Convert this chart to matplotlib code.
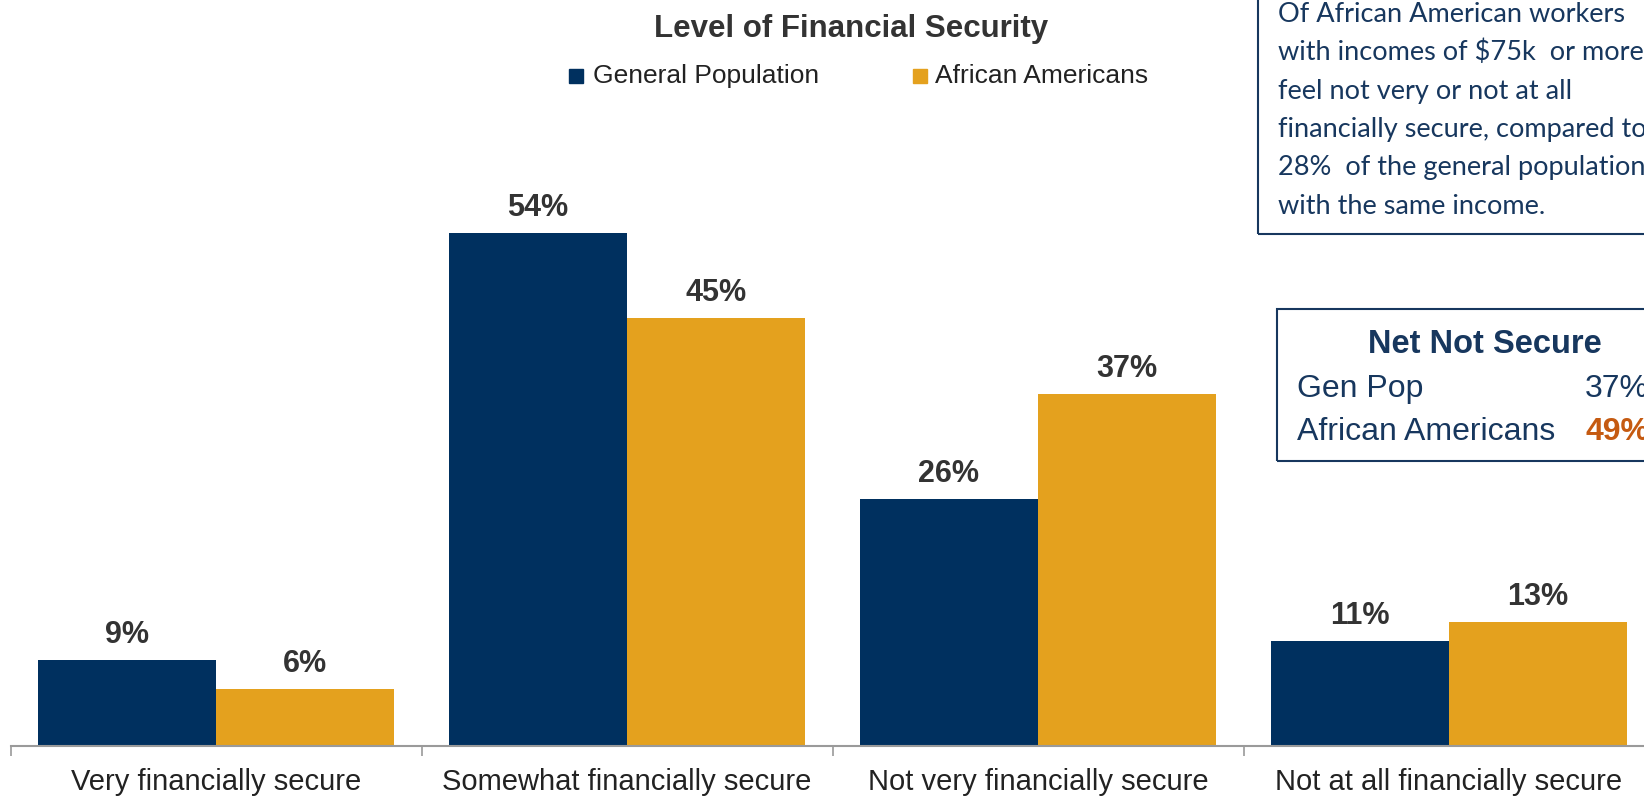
import matplotlib.pyplot as plt
from matplotlib import font_manager
from matplotlib.patches import Rectangle
import numpy as np

categories = ['Very financially secure', 'Somewhat financially secure',
              'Not very financially secure', 'Not at all financially secure']
gen_pop = [9, 54, 26, 11]
african_am = [6, 45, 37, 13]
series_names = ['General Population', 'African Americans']

net_labels = ['Gen Pop', 'African Americans']
net_values = [37, 49]

note_lines = ['Of African American workers',
              'with incomes of $75k  or more',
              'feel not very or not at all',
              'financially secure, compared to',
              '28%  of the general population',
              'with the same income.']

NAVY = '#00305F'
GOLD = '#E4A11E'
BOX_BLUE = '#17375E'

names = {f.name for f in font_manager.fontManager.ttflist}
narrow = 'Liberation Sans Narrow' if 'Liberation Sans Narrow' in names else 'Liberation Sans'
plt.rcParams['font.family'] = [narrow, 'DejaVu Sans']

W, H = 1644, 796
fig = plt.figure(figsize=(W / 100, H / 100), dpi=100)

# plot area: baseline at y=745.5px, categories 411px wide starting at x=10.5px
ax = fig.add_axes([10.5 / W, (H - 745.5) / H, 4 * 411 / W, 665 / H])
x = np.arange(len(categories))
bw = 0.434
b1 = ax.bar(x - bw / 2, gen_pop, bw, color=NAVY, label=series_names[0])
b2 = ax.bar(x + bw / 2, african_am, bw, color=GOLD, label=series_names[1])
ax.set_xlim(-0.5, len(categories) - 0.5)
ax.set_ylim(0, 70)

for bars, vals in ((b1, gen_pop), (b2, african_am)):
    for bar, v in zip(bars, vals):
        ax.annotate(f'{v}%', (bar.get_x() + bar.get_width() / 2, v),
                    xytext=(0, 7), textcoords='offset points',
                    ha='center', va='bottom', fontsize=22, fontweight='bold',
                    color='#333333')

for side in ('left', 'right', 'top'):
    ax.spines[side].set_visible(False)
ax.spines['bottom'].set_color('#9A9A9A')
ax.spines['bottom'].set_linewidth(1.5)
ax.set_yticks([])
ax.set_xticks(np.arange(len(categories) + 1) - 0.5)
ax.set_xticklabels([])
ax.tick_params(axis='x', which='major', length=7, width=1.2, color='#9A9A9A')
ax.set_xticks(x, minor=True)
ax.set_xticklabels(categories, minor=True, fontsize=21, color='#222222')
ax.tick_params(axis='x', which='minor', length=0, pad=16)

# title and legend
fig.text(851 / W, 1 - 37 / H, 'Level of Financial Security', ha='center',
         va='baseline', fontsize=22.5, fontweight='bold', color='#333333')
for (sx, tx), name, col in zip([(569, 593), (913, 935)], series_names, [NAVY, GOLD]):
    fig.patches.append(Rectangle((sx / W, 1 - 83 / H), 14 / W, 14 / H,
                                 transform=fig.transFigure, color=col))
    fig.text(tx / W, 1 - 83 / H, name, ha='left', va='baseline',
             fontsize=19, color='#222222')

# note box, top right
fig.patches.append(Rectangle((1257.5 / W, 1 - 233.5 / H), 400 / W, 260 / H,
                             transform=fig.transFigure, fill=False,
                             edgecolor=BOX_BLUE, linewidth=1.5))
for i, line in enumerate(note_lines):
    fig.text(1278 / W, 1 - (21.5 + 38.5 * i) / H, line, ha='left', va='baseline',
             fontsize=19.5, color=BOX_BLUE, family=['Lato', 'DejaVu Sans'])

# net not secure box
fig.patches.append(Rectangle((1277 / W, 1 - 461 / H), 400 / W, 152 / H,
                             transform=fig.transFigure, fill=False,
                             edgecolor=BOX_BLUE, linewidth=1.5))
fig.text(1485 / W, 1 - 353 / H, 'Net Not Secure', ha='center', va='baseline',
         fontsize=23.5, fontweight='bold', color=BOX_BLUE)
for i, (lab, val) in enumerate(zip(net_labels, net_values)):
    yb = 1 - (397 + 43 * i) / H
    fig.text(1297 / W, yb, lab, ha='left', va='baseline', fontsize=23, color=BOX_BLUE)
    fig.text(1585 / W, yb, f'{val}%', ha='left', va='baseline', fontsize=23,
             color='#C55A11' if i == 1 else BOX_BLUE,
             fontweight='bold' if i == 1 else 'normal')

fig.savefig('out.png', dpi=100)
